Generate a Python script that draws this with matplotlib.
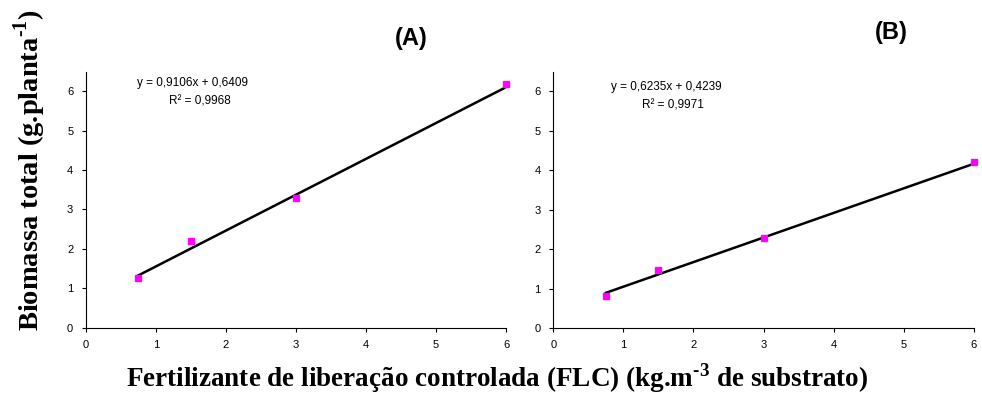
import numpy as np
import matplotlib
matplotlib.use('Agg')
from matplotlib import pyplot as plt

# Doses of controlled-release fertilizer (kg/m3)
doses = [0.75, 1.5, 3.0, 6.0]

# Total biomass (g/plant) for each experiment
biomass_a = [1.25, 2.20, 3.30, 6.18]
biomass_b = [0.82, 1.47, 2.28, 4.20]

# Linear fits shown on the panels
fit_a = (0.9106, 0.6409, 0.9968)
fit_b = (0.6235, 0.4239, 0.9971)

eq_labels = ['y = 0,9106x + 0,6409', 'y = 0,6235x + 0,4239']
r2_labels = ['R\u00b2 = 0,9968', 'R\u00b2 = 0,9971']
panel_titles = ['(A)', '(B)']

plt.rcParams['font.family'] = 'Liberation Sans'
plt.rcParams['mathtext.fontset'] = 'custom'
plt.rcParams['mathtext.rm'] = 'Liberation Serif:bold'
plt.rcParams['mathtext.bf'] = 'Liberation Serif:bold'

fig = plt.figure(figsize=(9.82, 4.0), dpi=100)
ax_a = fig.add_axes([0.0873, 0.181, 0.428, 0.64])
ax_b = fig.add_axes([0.5634, 0.18, 0.4284, 0.641])

panels = [
    (ax_a, biomass_a, fit_a, eq_labels[0], r2_labels[0], (1.53, 6.21), (1.53, 5.75)),
    (ax_b, biomass_b, fit_b, eq_labels[1], r2_labels[1], (1.61, 6.10), (1.61, 5.65)),
]

for ax, yvals, fit, eq, r2, eq_pos, r2_pos in panels:
    slope, intercept, _ = fit
    xs = np.array([doses[0], doses[-1]])
    ax.plot(xs, slope * xs + intercept, color='black', lw=1.8, zorder=2)
    ax.plot(doses, yvals, ls='none', marker='s', ms=5, color='#ff00ff',
            mec='#ff00ff', zorder=3, clip_on=False)
    ax.text(eq_pos[0], eq_pos[1], eq, ha='center', va='center', fontsize=8.5)
    ax.text(r2_pos[0] + 0.1, r2_pos[1], r2, ha='center', va='center', fontsize=8.5)

    ax.set_xlim(0, 6)
    ax.set_ylim(0, 6.5)
    ax.set_xticks(range(0, 7))
    ax.set_yticks(range(0, 7))
    ax.spines['top'].set_visible(False)
    ax.spines['right'].set_visible(False)
    ax.spines['left'].set_linewidth(0.8)
    ax.spines['bottom'].set_linewidth(0.8)
    ax.tick_params(direction='out', length=3, width=0.8, labelsize=8, pad=6)

# Panel titles
fig.text(411.7 / 982, 1 - 38 / 400, panel_titles[0], ha='center', va='center',
         fontsize=17, fontweight='bold')
fig.text(891.7 / 982, 1 - 33 / 400, panel_titles[1], ha='center', va='center',
         fontsize=17, fontweight='bold')

# Shared axis labels
fig.text(30 / 982, 1 - 170 / 400, r'Biomassa total (g.planta$^{\text{-1}}$)', rotation=90,
         ha='center', va='center', fontsize=20.5, fontweight='bold',
         family='Liberation Serif')
fig.text(497 / 982, 1 - 378 / 400,
         'Fertilizante de libera\u00e7\u00e3o controlada (FLC) (kg.m$^{\\text{-3}}$ de substrato)',
         ha='center', va='center', fontsize=19.5, fontweight='bold',
         family='Liberation Serif')

fig.savefig('out.png', dpi=100)
